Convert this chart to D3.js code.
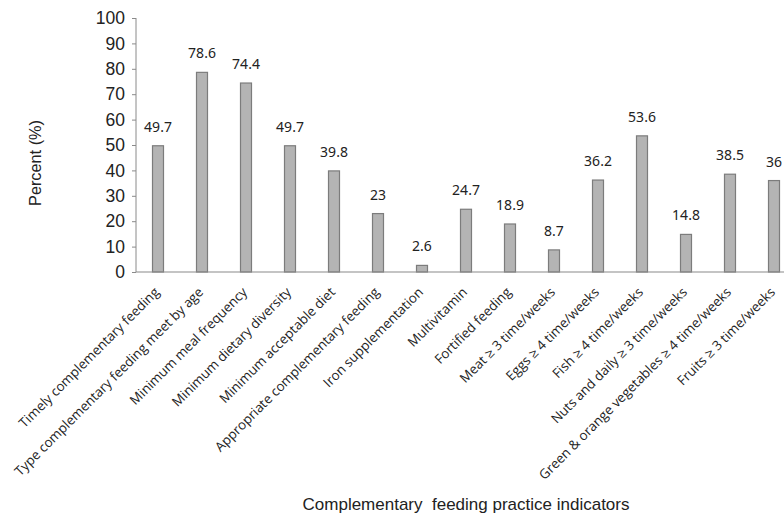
<!DOCTYPE html>
<html><head><meta charset="utf-8">
<script src="https://cdn.jsdelivr.net/npm/d3@7"></script>
<style>html,body{margin:0;padding:0;background:#fff;overflow:hidden}</style>
</head><body><svg id="c" width="784" height="515"></svg>
<script>
const categories = [
  "Timely complementary feeding",
  "Type complementary feeding meet by age",
  "Minimum meal frequency",
  "Minimum dietary diversity",
  "Minimum acceptable diet",
  "Appropriate complementary feeding",
  "Iron supplementation",
  "Multivitamin",
  "Fortified feeding",
  "Meat \u2265 3 time/weeks",
  "Eggs \u2265 4 time/weeks",
  "Fish \u2265 4 time/weeks",
  "Nuts and daily \u2265 3 time/weeks",
  "Green & orange vegetables \u2265 4 time/weeks",
  "Fruits \u2265 3 time/weeks"
];
const values = [49.7, 78.6, 74.4, 49.7, 39.8, 23, 2.6, 24.7, 18.9, 8.7, 36.2, 53.6, 14.8, 38.5, 36];
const yTicks = [0,10,20,30,40,50,60,70,80,90,100];

const svg = d3.select("#c");
const x = d3.scaleBand().domain(categories).range([136, 796]).paddingInner(0.75).paddingOuter(0.375);
const y = d3.scaleLinear().domain([0, 100]).range([272, 18]);

// y axis
const ya = svg.append("g").attr("transform","translate(136,0)")
  .call(d3.axisLeft(y).tickValues(yTicks).tickSize(4).tickPadding(7).tickFormat(d3.format("d")));
ya.select(".domain").attr("stroke","#8a8a8a").attr("d","M0,18V272");
ya.selectAll(".tick line").attr("stroke","#8a8a8a");
ya.selectAll(".tick text").attr("font-family","'Liberation Sans', Arial, sans-serif").attr("font-size","17.5px").attr("fill","#222");

// bars
svg.append("g").selectAll("rect").data(values).join("rect")
  .attr("x",(d,i)=>x(categories[i]))
  .attr("y",d=>y(d))
  .attr("width",x.bandwidth())
  .attr("height",d=>y(0)-y(d))
  .attr("fill","#b4b4b4").attr("stroke","#7c7c7c").attr("stroke-width",1.2);

// x axis line
svg.append("line").attr("x1",136).attr("x2",796).attr("y1",y(0)).attr("y2",y(0))
  .attr("stroke","#8a8a8a").attr("stroke-width",1.2);

// value labels
svg.append("g").selectAll("text").data(values).join("text")
  .attr("x",(d,i)=>x(categories[i])+x.bandwidth()/2)
  .attr("y",d=>y(d)-14)
  .attr("text-anchor","middle")
  .attr("font-family","'Noto Sans', sans-serif").attr("font-size","14px").attr("fill","#222")
  .text(d=>d);

// category labels
svg.append("g").selectAll("text").data(categories).join("text")
  .attr("transform",d=>`translate(${x(d)+x.bandwidth()/2+2},${y(0)+21}) rotate(-45)`)
  .attr("text-anchor","end")
  .attr("font-family","'Open Sans', sans-serif").attr("font-size","13.3px").attr("fill","#222")
  .text(d=>d);

// axis titles
svg.append("text").attr("x",466).attr("y",510).attr("text-anchor","middle")
  .attr("font-family","'Liberation Sans', Arial, sans-serif").attr("font-size","17px").attr("fill","#222")
  .attr("xml:space","preserve")
  .text("Complementary  feeding practice indicators");
svg.append("text").attr("transform","translate(41,163) rotate(-90)").attr("text-anchor","middle")
  .attr("font-family","'Liberation Sans', Arial, sans-serif").attr("font-size","16.3px").attr("fill","#222")
  .text("Percent (%)");
</script></body></html>
